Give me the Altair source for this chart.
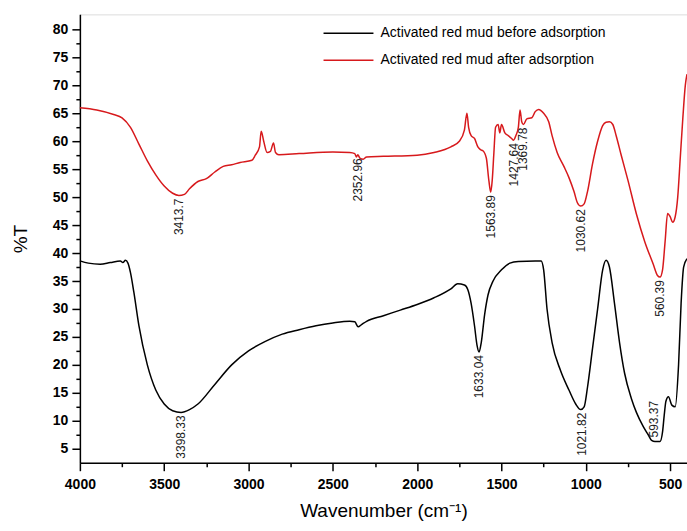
import altair as alt
import pandas as pd

# Activated red mud before adsorption (black)
wn_before = [4000, 3950, 3880, 3820, 3760, 3745, 3730, 3715, 3700, 3680, 3650, 3600, 3550, 3500, 3450,
             3400, 3350, 3300, 3200, 3100, 3000, 2900, 2800, 2700, 2600, 2500, 2400, 2370, 2350, 2330,
             2300, 2200, 2100, 2000, 1900, 1800, 1760, 1720, 1700, 1680, 1660, 1645, 1633, 1620, 1600,
             1580, 1550, 1500, 1450, 1400, 1300, 1265, 1250, 1230, 1200, 1150, 1100, 1060, 1030, 1010,
             990, 960, 930, 900, 880, 860, 830, 800, 770, 730, 700, 660, 630, 610, 590, 560, 545, 535,
             525, 510, 490, 470, 450, 435, 420, 400]
t_before = [38.6, 38.2, 38.0, 38.3, 38.6, 38.3, 38.7, 38.2, 36.5, 33.0, 27.0, 20.0, 15.5, 13.0, 11.8,
            11.5, 12.0, 13.0, 16.5, 20.0, 22.5, 24.2, 25.5, 26.3, 27.0, 27.5, 27.8, 27.7, 26.8, 27.2,
            27.8, 28.8, 29.8, 30.8, 32.0, 33.6, 34.5, 34.3, 33.5, 31.0, 27.0, 23.5, 22.3, 24.0, 29.0,
            32.5, 35.0, 37.0, 38.2, 38.5, 38.6, 38.6, 37.0, 30.0, 24.0, 19.0, 15.5, 13.0, 12.0, 12.5,
            16.0, 23.0, 30.0, 37.0, 38.7, 37.5, 31.0, 24.0, 18.5, 14.0, 11.5, 9.0, 7.5, 6.5, 6.3, 6.3,
            8.0, 11.0, 13.5, 14.3, 12.8, 12.5, 20.0, 31.0, 37.5, 39.0]

# Activated red mud after adsorption (red)
wn_after = [4000, 3900, 3800, 3750, 3700, 3650, 3600, 3550, 3500, 3450, 3413, 3380, 3350, 3300, 3250,
            3200, 3150, 3100, 3050, 2980, 2960, 2935, 2925, 2910, 2890, 2870, 2852, 2840, 2820, 2700,
            2500, 2400, 2370, 2360, 2352, 2340, 2320, 2300, 2200, 2000, 1900, 1800, 1750, 1720, 1705,
            1695, 1680, 1660, 1640, 1625, 1610, 1590, 1575, 1564, 1555, 1545, 1535, 1520, 1510, 1500,
            1480, 1460, 1440, 1428, 1415, 1400, 1390, 1380, 1370, 1350, 1320, 1300, 1280, 1250, 1220,
            1200, 1170, 1130, 1100, 1070, 1050, 1030, 1010, 990, 960, 930, 900, 880, 860, 840, 820,
            790, 750, 700, 650, 600, 575, 560, 545, 530, 515, 500, 485, 470, 455, 440, 425, 410, 400]
t_after = [66.0, 65.6, 64.8, 64.2, 62.5, 59.5, 56.5, 54.0, 52.0, 50.7, 50.3, 50.5, 51.5, 52.8, 53.3,
           54.5, 55.5, 55.8, 56.2, 56.6, 57.5, 59.0, 61.8, 60.0, 58.0, 58.2, 59.7, 58.0, 57.6, 57.8,
           58.1, 58.0, 57.8, 57.2, 57.6, 57.0, 56.8, 57.2, 57.3, 57.5, 58.0, 59.0, 60.0, 62.0, 65.0,
           62.5, 61.0, 60.5, 59.0, 58.5, 58.3, 57.0, 53.0, 50.9, 53.0, 58.0, 62.5, 63.0, 61.5, 63.0,
           61.5, 61.0, 60.5, 60.2, 61.0, 62.5, 65.6, 63.5, 63.0, 64.0, 64.2, 65.3, 65.7, 65.0, 63.5,
           61.0, 58.0, 55.5, 53.5, 51.0, 49.0, 48.4, 48.8, 51.0, 56.0, 60.0, 62.8, 63.4, 63.5, 63.0,
           61.0, 57.5, 53.0, 47.0, 42.0, 38.0, 36.0, 35.7, 37.0, 42.0, 47.1, 46.5, 45.5, 46.5, 50.0,
           57.0, 64.0, 70.0, 72.0]

# Peak annotations (wavenumber, %T at peak, label text)
peak_wn = [3413.7, 2352.96, 1563.89, 1427.64, 1369.78, 1030.62, 560.39, 3398.33, 1633.04, 1021.82]
peak_t = [50.3, 57.5, 50.9, 60.2, 63.0, 48.4, 35.7, 11.5, 22.3, 12.0]
peak_lbl = ["3413.7", "2352.96", "1563.89", "1427.64", "1369.78", "1030.62", "560.39",
            "3398.33", "1633.04", "1021.82"]
# label placed above the minimum
up_wn = [593.37]
up_t = [6.3]
up_lbl = ["593.37"]

s_before = "Activated red mud before adsorption"
s_after = "Activated red mud after adsorption"

df = pd.concat([
    pd.DataFrame({"wn": wn_before, "t": t_before, "series": s_before}),
    pd.DataFrame({"wn": wn_after, "t": t_after, "series": s_after}),
])
df_peaks = pd.DataFrame({"wn": peak_wn, "t": peak_t, "label": peak_lbl})
df_up = pd.DataFrame({"wn": up_wn, "t": up_t, "label": up_lbl})

FONT = "Liberation Sans"
x_ticks = [4000 - 250 * i for i in range(15)]
y_ticks = [5 + 2.5 * i for i in range(31)]

x_scale = alt.Scale(domain=[4000, 400], nice=False, zero=False)
y_scale = alt.Scale(domain=[2.5, 82.7], nice=False, zero=False)

x_axis = alt.Axis(
    values=x_ticks, title="Wavenumber (cm⁻¹)", grid=False,
    labelExpr="datum.value % 500 == 0 ? format(datum.value, 'd') : ''",
    tickSize=alt.condition("datum.value % 500 == 0", alt.value(8), alt.value(4)),
    labelFont=FONT, labelFontSize=14, labelFontWeight="bold", labelColor="black",
    labelPadding=7, labelFlush=False, labelOverlap=False, labelBound=False,
    titleFont=FONT, titleFontSize=19, titleFontWeight="normal", titleColor="black", titlePadding=10,
    domainColor="black", domainWidth=1.5, tickColor="black", tickWidth=1.5,
)
y_axis = alt.Axis(
    values=y_ticks, title="%T", grid=False,
    labelExpr="datum.value % 5 == 0 ? format(datum.value, 'd') : ''",
    tickSize=alt.condition("datum.value % 5 == 0", alt.value(8), alt.value(4)),
    labelFont=FONT, labelFontSize=14, labelFontWeight="bold", labelColor="black",
    labelPadding=4, labelFlush=False, labelOverlap=False, labelBound=False,
    titleFont=FONT, titleFontSize=19, titleFontWeight="normal", titleColor="black", titlePadding=22,
    domainColor="black", domainWidth=1.5, tickColor="black", tickWidth=1.5,
)

X = alt.X("wn:Q", scale=x_scale, axis=x_axis)
Y = alt.Y("t:Q", scale=y_scale, axis=y_axis)

lines = alt.Chart(df).mark_line(strokeWidth=1.5, interpolate="monotone").encode(
    x=X,
    y=Y,
    color=alt.Color(
        "series:N",
        scale=alt.Scale(domain=[s_before, s_after], range=["#000000", "#d7191c"]),
        legend=alt.Legend(
            title=None, orient="none", legendX=243, legendY=11, padding=0,
            symbolType="stroke", symbolSize=2500, symbolStrokeWidth=1.5,
            labelFont=FONT, labelFontSize=14, labelColor="black", labelLimit=0,
            clipHeight=16, rowPadding=11, labelOffset=6,
        ),
    ),
    detail="series:N",
)

peaks = alt.Chart(df_peaks).mark_text(
    angle=270, align="right", baseline="middle", dx=-3, font=FONT, fontSize=12, color="#222222"
).encode(x=X, y=Y, text="label:N")

ups = alt.Chart(df_up).mark_text(
    angle=270, align="left", baseline="middle", dx=4, font=FONT, fontSize=12, color="#222222"
).encode(x=X, y=Y, text="label:N")

chart = alt.layer(lines, peaks, ups).properties(
    width=608, height=449,
    padding={"left": 80, "top": 14, "right": 0, "bottom": 68},
    autosize=alt.AutoSizeParams(type="none"),
).configure_view(
    stroke="black", strokeWidth=1.5
).configure_axis(
    labelOverlap=False
).configure(background="white")

chart.save("out.html", embed_options={"renderer": "svg", "actions": False})
